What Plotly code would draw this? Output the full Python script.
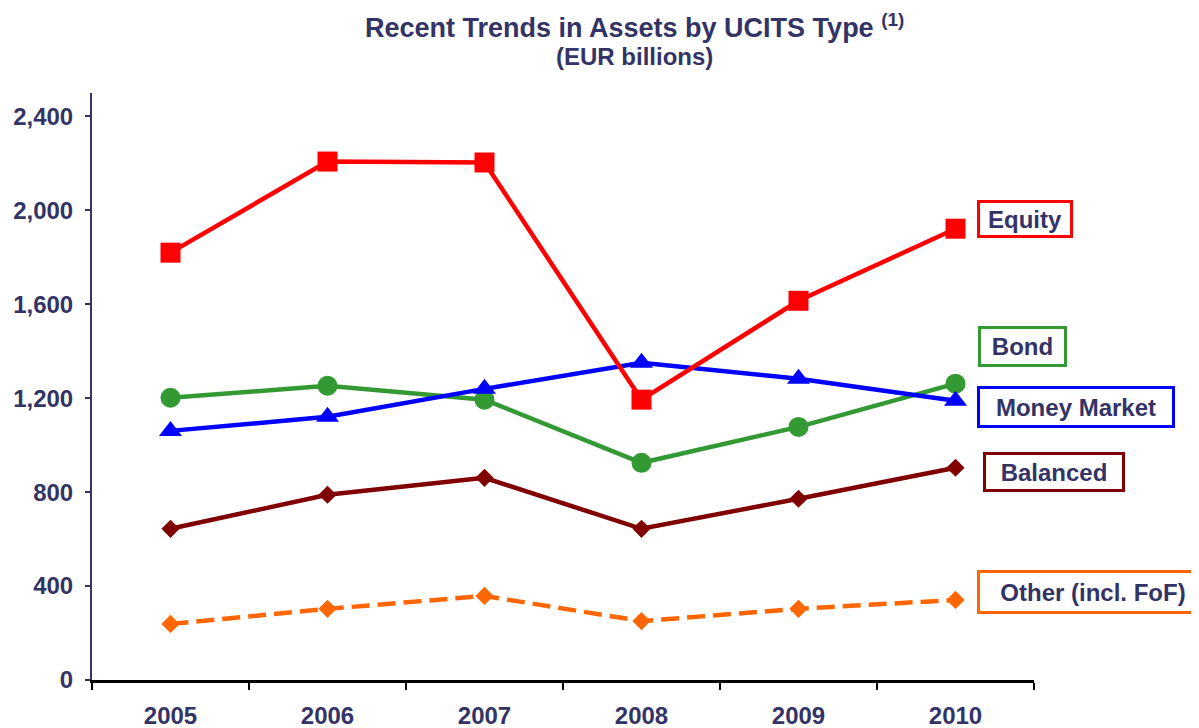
import plotly.graph_objects as go

years = ["2005", "2006", "2007", "2008", "2009", "2010"]
equity = [1820, 2208, 2204, 1194, 1615, 1922]
bond = [1202, 1253, 1194, 925, 1078, 1262]
money_market = [1061, 1121, 1240, 1351, 1283, 1189]
balanced = [644, 789, 861, 644, 772, 904]
other = [239, 303, 358, 251, 303, 341]

y_ticks = [0, 400, 800, 1200, 1600, 2000, 2400]

NAVY = "#333366"
FONT = "Arial, Liberation Sans, sans-serif"

series = [
    # name, values, colour, marker, size, dash
    ("Other (incl. FoF)", other, "#FF6600", "diamond", 14, "18px,8px"),
    ("Balanced", balanced, "#800000", "diamond", 14, "solid"),
    ("Bond", bond, "#339933", "circle", 20, "solid"),
    ("Money Market", money_market, "#0000FF", "triangle-up", 20, "solid"),
    ("Equity", equity, "#FF0000", "square", 20, "solid"),
]

fig = go.Figure()
for name, vals, col, sym, size, dash in series:
    fig.add_trace(go.Scatter(
        x=years, y=vals, name=name, mode="lines+markers",
        line=dict(color=col, width=4.5, dash=dash),
        marker=dict(symbol=sym, size=size, color=col),
        showlegend=False,
    ))

# the page body adds an 8px margin, so pixel targets are shifted back by it
OFF = 8
L, R, T, B = 92 - OFF, 1034 - OFF, 93 - OFF, 680 - OFF


def px(cx, cy):
    return (cx - OFF - L) / (R - L), (B - (cy - OFF)) / (B - T)


# label boxes next to the end points: (text, colour, centre x px, centre y px, width, height)
labels = [
    ("Equity", "#FF0000", 1025, 219, 90, 32),
    ("Bond", "#339933", 1022, 346, 83, 35),
    ("Money Market", "#0000FF", 1076, 407, 192, 36),
    ("Balanced", "#800000", 1054, 472, 136, 34),
    ("Other (incl. FoF)", "#FF6600", 1093, 592, 226, 38),
]
for txt, col, cx, cy, w, h in labels:
    x, y = px(cx, cy)
    fig.add_annotation(
        x=x, y=y, xref="paper", yref="paper",
        text="<b>%s</b>" % txt, showarrow=False, xanchor="center", yanchor="middle",
        width=w, height=h, borderpad=0, bordercolor=col, borderwidth=3,
        bgcolor="white", font=dict(size=24, color=NAVY, family=FONT),
    )

x, y = px(634, 26)
fig.add_annotation(
    x=x, y=y, xref="paper", yref="paper",
    text="<b>Recent Trends in Assets by UCITS Type <sup>(1)</sup></b>",
    showarrow=False, xanchor="center", yanchor="middle",
    font=dict(size=27, color=NAVY, family=FONT),
)
x, y = px(634, 57)
fig.add_annotation(
    x=x, y=y, xref="paper", yref="paper",
    text="<b>(EUR billions)</b>",
    showarrow=False, xanchor="center", yanchor="middle",
    font=dict(size=24, color=NAVY, family=FONT),
)

fig.update_layout(
    width=1199, height=728,
    margin=dict(l=L, r=1199 - R, t=T, b=728 - B),
    plot_bgcolor="white", paper_bgcolor="white",
    font=dict(family=FONT, color=NAVY),
    xaxis=dict(
        type="category", range=[-0.5, 5.5], showgrid=False, zeroline=False,
        showline=True, linecolor="black", linewidth=3, automargin=False,
        ticks="outside", tickson="boundaries", ticklen=7, tickwidth=1.5, tickcolor="black",
        ticklabelstandoff=12,
        tickfont=dict(size=24, color=NAVY, family=FONT, weight="bold"),
    ),
    yaxis=dict(
        range=[0, 2500], tickvals=y_ticks, tickformat=",", showgrid=False, zeroline=False,
        showline=True, linecolor=NAVY, linewidth=2, automargin=False,
        ticks="outside", ticklen=5, tickwidth=1.5, tickcolor=NAVY,
        ticklabelstandoff=7,
        tickfont=dict(size=24, color=NAVY, family=FONT, weight="bold"),
    ),
)

fig.write_html("out.html")
